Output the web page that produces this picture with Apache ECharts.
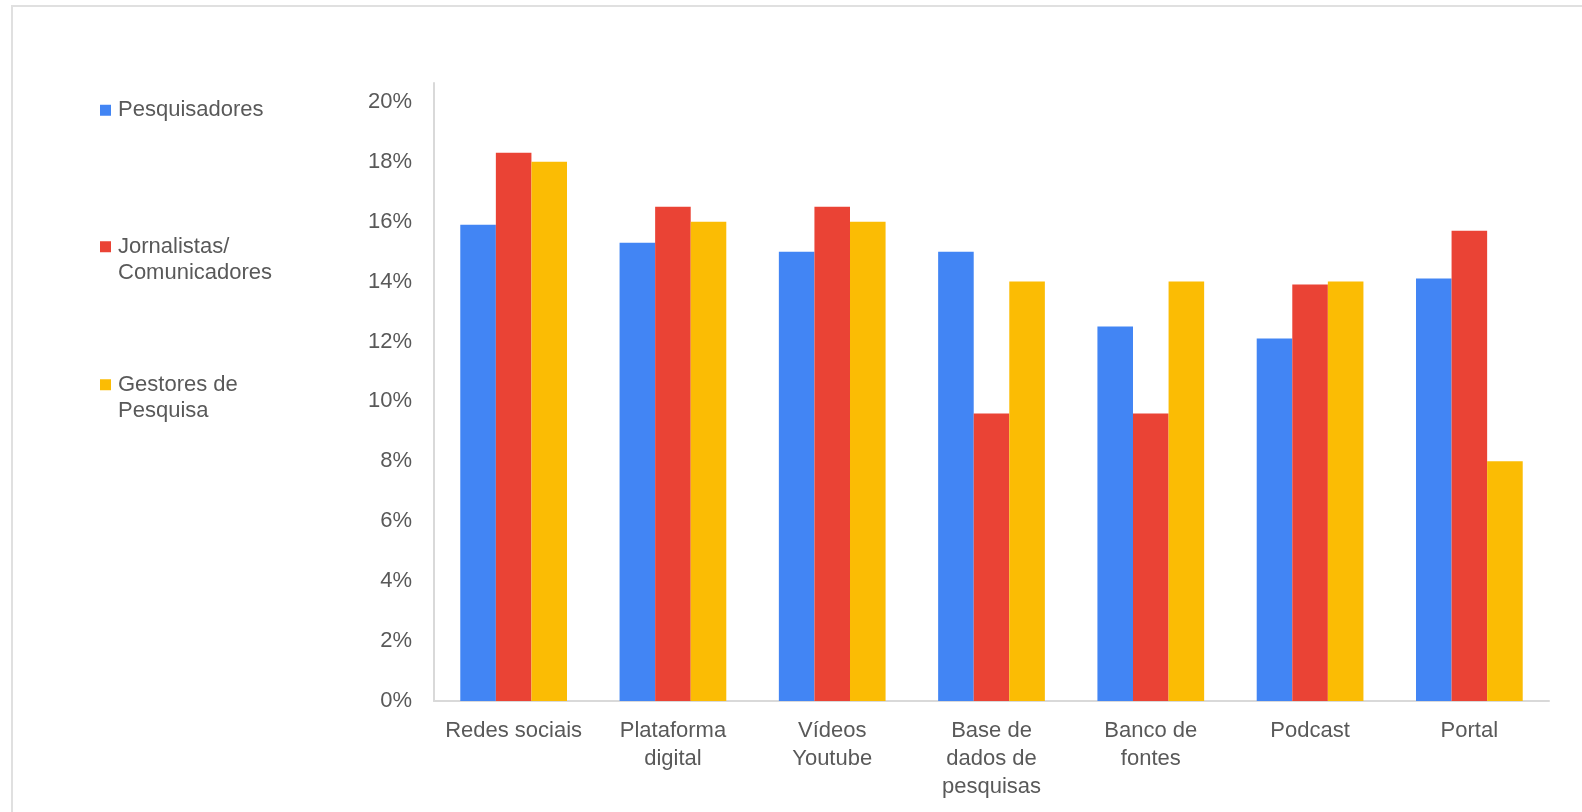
<!DOCTYPE html>
<html>
<head>
<meta charset="utf-8">
<style>
html,body{margin:0;padding:0;background:#fff;}
#chart{width:1582px;height:812px;}
</style>
<script src="https://cdn.jsdelivr.net/npm/echarts@6/dist/echarts.min.js"></script>
</head>
<body>
<div id="chart"></div>
<script>
const categories = ['Redes sociais', 'Plataforma\ndigital', 'Vídeos\nYoutube', 'Base de\ndados de\npesquisas', 'Banco de\nfontes', 'Podcast', 'Portal'];
const seriesNames = ['Pesquisadores', 'Jornalistas/Comunicadores', 'Gestores de Pesquisa'];
const legendLabels = ['Pesquisadores', '\nJornalistas/\nComunicadores', '\nGestores de\nPesquisa'];
const pesquisadores = [15.9, 15.3, 15.0, 15.0, 12.5, 12.1, 14.1];
const jornalistas = [18.3, 16.5, 16.5, 9.6, 9.6, 13.9, 15.7];
const gestores = [18.0, 16.0, 16.0, 14.0, 14.0, 14.0, 8.0];
const colors = ['#4285F4', '#EA4335', '#FBBC04'];

const font = '"Liberation Sans", Arial, sans-serif';
const textColor = '#595959';
const chart = echarts.init(document.getElementById('chart'), null, {renderer: 'canvas'});

const legendTops = [97, 207, 345];
const legends = seriesNames.map((n, i) => ({
  data: [n],
  left: 100,
  top: legendTops[i],
  orient: 'vertical',
  padding: 0,
  icon: 'rect',
  itemWidth: 11,
  itemHeight: 11,
  formatter: () => legendLabels[i],
  textStyle: {fontFamily: font, fontSize: 22, color: textColor, lineHeight: 26.5, padding: [0, 0, 0, 2]},
  selectedMode: false
}));

const data = [pesquisadores, jornalistas, gestores];

chart.setOption({
  animation: false,
  color: colors,
  graphic: [{
    type: 'rect',
    shape: {x: 12, y: 6, width: 1700, height: 900},
    style: {fill: 'none', stroke: '#e0e0e0', lineWidth: 2},
    silent: true
  }],
  legend: legends,
  grid: {left: 434, right: 33, top: 83, bottom: 111, containLabel: false},
  xAxis: {
    type: 'category',
    data: categories,
    axisLine: {show: true, lineStyle: {color: '#d9d9d9', width: 2}},
    axisTick: {show: false},
    axisLabel: {fontFamily: font, fontSize: 22, color: textColor, lineHeight: 28, margin: 16, interval: 0}
  },
  yAxis: {
    type: 'value',
    min: 0,
    max: 20.63,
    interval: 2,
    axisLine: {show: true, lineStyle: {color: '#d9d9d9', width: 2}},
    axisTick: {show: false},
    splitLine: {show: false},
    axisLabel: {fontFamily: font, fontSize: 22, color: textColor, margin: 22, showMaxLabel: false,
      formatter: v => Math.round(v) + '%'}
  },
  series: seriesNames.map((n, i) => ({
    name: n,
    type: 'bar',
    data: data[i],
    barGap: '0%',
    barCategoryGap: '33%',
    itemStyle: {color: colors[i]}
  }))
});
</script>
</body>
</html>
